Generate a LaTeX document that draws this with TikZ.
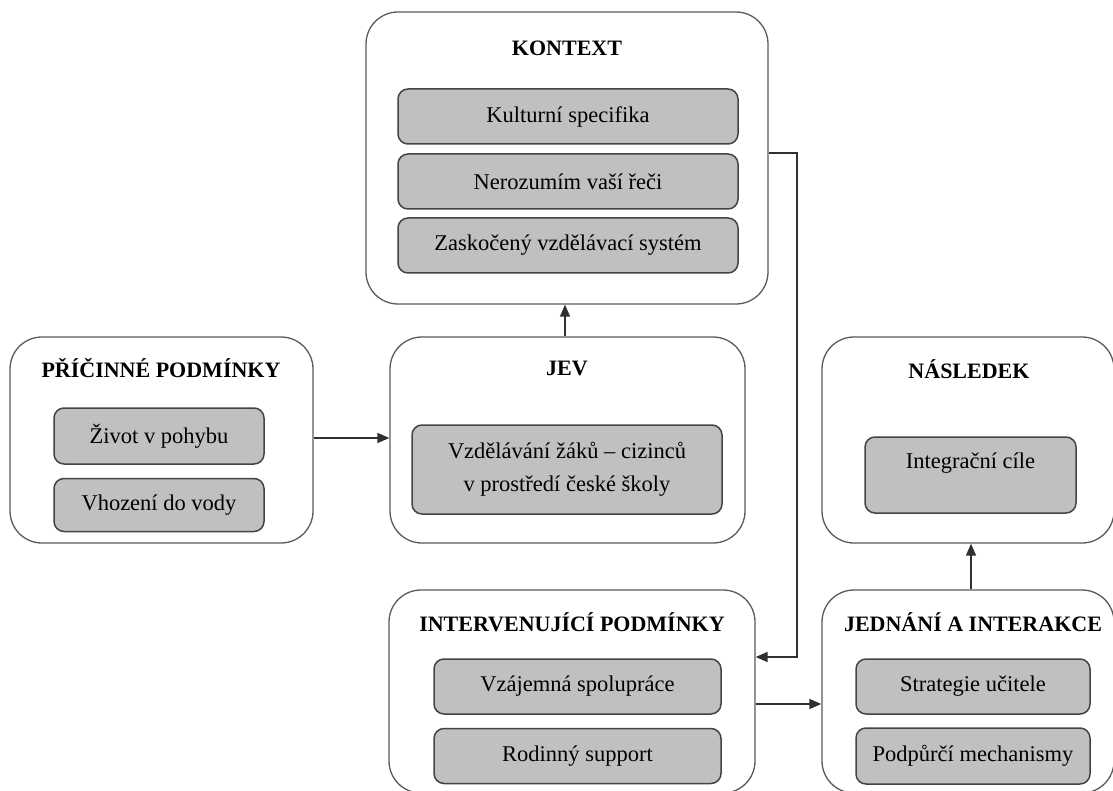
\documentclass[tikz,border=0pt]{standalone}
\usepackage{fontspec}
\setmainfont{Liberation Serif}
\usetikzlibrary{arrows.meta}
\definecolor{innerfill}{HTML}{C0C0C0}
\definecolor{outerline}{HTML}{5A5A5A}
\definecolor{innerline}{HTML}{444444}
\definecolor{conn}{HTML}{303030}
\tikzset{
  outerbox/.style={draw=outerline, line width=1.3pt, rounded corners=32pt, fill=white, inner sep=0pt},
  innerbox/.style={draw=innerline, line width=1.5pt, rounded corners=10pt, fill=innerfill, inner sep=0pt, align=center, font=\fontsize{22.5}{33}\selectfont},
  titletext/.style={font=\fontsize{22}{26}\selectfont\bfseries, inner sep=0pt},
  plaintext/.style={font=\fontsize{22.5}{33}\selectfont, inner sep=0pt},
  arr/.style={draw=conn, line width=1.5pt, -{Triangle[length=12pt,width=10pt]}}
}
\begin{document}
\begin{tikzpicture}[x=1pt,y=-1pt]
\useasboundingbox (0,0) rectangle (1113,791);
\clip (0,0) rectangle (1113,791);
% outer boxes
\node[outerbox, minimum width=402pt, minimum height=292pt] (ctx) at (567,158) {};
\node[outerbox, minimum width=303pt, minimum height=206pt] (pric) at (161.5,440) {};
\node[outerbox, minimum width=355pt, minimum height=206pt] (jev) at (567.5,440) {};
\node[outerbox, minimum width=292pt, minimum height=206pt] (nasl) at (968,440) {};
\node[outerbox, minimum width=366pt, minimum height=203pt] (interv) at (572,691.5) {};
\node[outerbox, minimum width=292pt, minimum height=203pt] (jedn) at (968,691.5) {};
% titles
\node[titletext] (tctx) at (567,48) {KONTEXT};
\node[titletext] (tpric) at (161,368) {PŘÍČINNÉ PODMÍNKY};
\node[titletext] (tjev) at (567,368) {JEV};
\node[titletext] (tnasl) at (969,369) {NÁSLEDEK};
\node[titletext] (tinterv) at (572,622) {INTERVENUJÍCÍ PODMÍNKY};
\node[titletext] (tjedn) at (973,622) {JEDNÁNÍ A INTERAKCE};
% inner boxes
\node[innerbox, minimum width=340pt, minimum height=55pt] (kult) at (568,116.5) {Kulturní specifika};
\node[innerbox, minimum width=340pt, minimum height=55pt] (nero) at (568,181.5) {Nerozumím vaší řeči};
\node[innerbox, minimum width=340pt, minimum height=55pt] (zask) at (568,245.5) {Zaskočený vzdělávací systém};
\node[innerbox, minimum width=210pt, minimum height=56pt] (zivot) at (159,436) {Život v pohybu};
\node[innerbox, minimum width=210pt, minimum height=53pt] (vhoz) at (159,505) {Vhození do vody};
\node[innerbox, minimum width=310pt, minimum height=89pt] (vzdel) at (567,469.5) {Vzdělávání žáků – cizinců\\v prostředí české školy};
\node[innerbox, minimum width=211pt, minimum height=76pt] (integ) at (970.5,475) {};
\node[plaintext] (tinteg) at (970.5,463) {Integrační cíle};
\node[innerbox, minimum width=287pt, minimum height=55pt] (vzaj) at (577.5,686.5) {Vzájemná spolupráce};
\node[innerbox, minimum width=287pt, minimum height=55pt] (rodin) at (577.5,756) {Rodinný support};
\node[innerbox, minimum width=234pt, minimum height=55pt] (strat) at (973,686.5) {Strategie učitele};
\node[innerbox, minimum width=234pt, minimum height=56pt] (podp) at (973,756) {Podpůrčí mechanismy};
% connectors
\draw[arr] (pric.east |- 0,438) -- (jev.west |- 0,438);
\draw[arr] (jev.north -| 565,0) -- (ctx.south -| 565,0);
\coordinate (bend) at (797,153);
\draw[arr] (ctx.east |- bend) -- (bend) |- (interv.east |- 0,657);
\draw[arr] (interv.east |- 0,704) -- (jedn.west |- 0,704);
\draw[arr] (jedn.north -| 971,0) -- (nasl.south -| 971,0);
\end{tikzpicture}
\end{document}
